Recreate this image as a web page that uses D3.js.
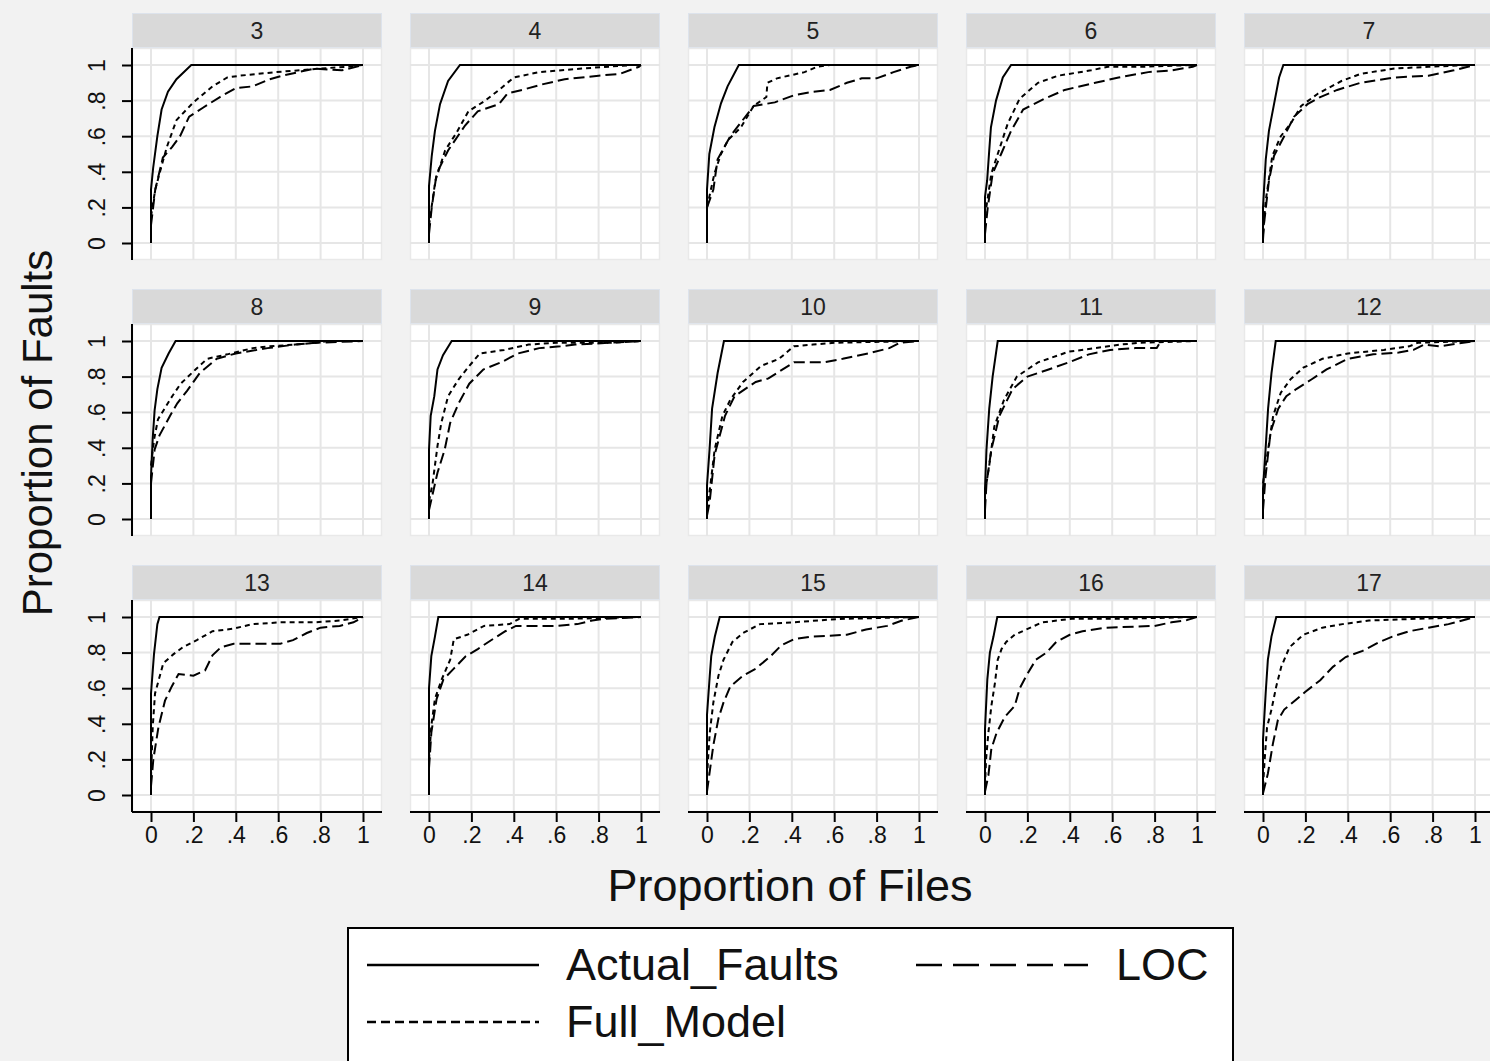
<!DOCTYPE html>
<html>
<head>
<meta charset="utf-8">
<script src="https://cdn.jsdelivr.net/npm/d3@7"></script>
<style>
  html, body { margin: 0; padding: 0; background: #f2f2f2; }
  svg { display: block; font-family: "Liberation Sans", Arial, Helvetica, sans-serif; }
</style>
</head>
<body>
<script>
// panel labels (release numbers), read left to right, top to bottom
const panelLabels = ['3', '4', '5', '6', '7', '8', '9', '10', '11', '12', '13', '14', '15', '16', '17'];

const xTicks = [0, 0.2, 0.4, 0.6, 0.8, 1];
const xTickLabels = ['0', '.2', '.4', '.6', '.8', '1'];
const yTicks = [0, 0.2, 0.4, 0.6, 0.8, 1];
const yTickLabels = ['0', '.2', '.4', '.6', '.8', '1'];

const seriesNames = ['Actual_Faults', 'Full_Model', 'LOC'];

// [proportion of files, proportion of faults], one list per panel
const actualFaults = [
  [[0, 0], [0, 0.3], [0.01, 0.42], [0.03, 0.6], [0.05, 0.75], [0.08, 0.85], [0.12, 0.92], [0.19, 1], [1, 1]],
  [[0, 0], [0, 0.32], [0.013, 0.49], [0.028, 0.63], [0.052, 0.78], [0.09, 0.91], [0.146, 1], [1, 1]],
  [[0, 0], [0, 0.3], [0.011, 0.5], [0.035, 0.65], [0.066, 0.785], [0.097, 0.88], [0.15, 1], [1, 1]],
  [[0, 0], [0, 0.26], [0.01, 0.35], [0.02, 0.52], [0.028, 0.65], [0.052, 0.8], [0.084, 0.93], [0.123, 1], [1, 1]],
  [[0, 0], [0, 0.2], [0.013, 0.47], [0.028, 0.63], [0.052, 0.78], [0.076, 0.93], [0.096, 1], [1, 1]],
  [[0, 0], [0, 0.24], [0.008, 0.45], [0.017, 0.61], [0.03, 0.73], [0.05, 0.85], [0.083, 0.93], [0.116, 1], [1, 1]],
  [[0, 0], [0, 0.39], [0.008, 0.58], [0.025, 0.69], [0.04, 0.84], [0.066, 0.92], [0.107, 1], [1, 1]],
  [[0, 0], [0, 0.19], [0.012, 0.39], [0.024, 0.62], [0.05, 0.82], [0.08, 1], [1, 1]],
  [[0, 0], [0, 0.17], [0.007, 0.39], [0.02, 0.62], [0.036, 0.8], [0.06, 1], [1, 1]],
  [[0, 0], [0, 0.17], [0.012, 0.39], [0.024, 0.62], [0.04, 0.82], [0.06, 1], [1, 1]],
  [[0, 0], [0, 0.57], [0.014, 0.79], [0.03, 0.96], [0.04, 1], [1, 1]],
  [[0, 0], [0, 0.6], [0.011, 0.78], [0.028, 0.89], [0.044, 1], [1, 1]],
  [[0, 0], [0, 0.45], [0.013, 0.67], [0.02, 0.78], [0.037, 0.89], [0.06, 1], [1, 1]],
  [[0, 0], [0, 0.37], [0.011, 0.65], [0.023, 0.8], [0.04, 0.89], [0.058, 1], [1, 1]],
  [[0, 0], [0, 0.31], [0.0125, 0.57], [0.023, 0.76], [0.04, 0.89], [0.0625, 1], [1, 1]]
];

const fullModel = [
  [[0, 0.15], [0.02, 0.3], [0.04, 0.39], [0.075, 0.54], [0.12, 0.69], [0.2, 0.79], [0.29, 0.88], [0.36, 0.93], [0.42, 0.94], [0.59, 0.96], [0.8, 0.98], [0.92, 0.99], [1, 1]],
  [[0, 0.1], [0.03, 0.35], [0.076, 0.52], [0.13, 0.62], [0.186, 0.74], [0.265, 0.8], [0.33, 0.86], [0.4, 0.93], [0.52, 0.96], [0.72, 0.98], [0.96, 1], [1, 1]],
  [[0, 0.2], [0.035, 0.39], [0.066, 0.5], [0.1, 0.58], [0.16, 0.65], [0.22, 0.77], [0.28, 0.82], [0.285, 0.9], [0.33, 0.925], [0.46, 0.96], [0.52, 0.99], [0.58, 1], [1, 1]],
  [[0, 0.15], [0.03, 0.39], [0.06, 0.5], [0.107, 0.67], [0.163, 0.81], [0.25, 0.9], [0.345, 0.94], [0.5, 0.97], [0.58, 0.99], [0.74, 0.99], [0.98, 1], [1, 1]],
  [[0, 0.05], [0.013, 0.24], [0.044, 0.49], [0.084, 0.6], [0.13, 0.67], [0.18, 0.77], [0.26, 0.84], [0.37, 0.91], [0.46, 0.95], [0.62, 0.98], [0.78, 0.99], [0.98, 1], [1, 1]],
  [[0, 0.3], [0.015, 0.45], [0.033, 0.56], [0.1, 0.69], [0.14, 0.76], [0.21, 0.84], [0.265, 0.9], [0.36, 0.925], [0.48, 0.96], [0.56, 0.97], [0.68, 0.98], [0.78, 0.99], [0.84, 1], [1, 1]],
  [[0, 0.1], [0.017, 0.2], [0.04, 0.41], [0.058, 0.54], [0.09, 0.69], [0.14, 0.785], [0.19, 0.86], [0.24, 0.93], [0.355, 0.95], [0.47, 0.98], [0.6, 0.99], [0.85, 0.99], [1, 1]],
  [[0, 0.05], [0.017, 0.2], [0.036, 0.39], [0.073, 0.58], [0.11, 0.67], [0.17, 0.77], [0.255, 0.86], [0.34, 0.9], [0.41, 0.97], [0.5, 0.98], [0.6, 0.99], [1, 1]],
  [[0, 0.15], [0.02, 0.3], [0.044, 0.52], [0.09, 0.67], [0.15, 0.8], [0.25, 0.88], [0.395, 0.94], [0.52, 0.96], [0.64, 0.98], [0.73, 0.99], [1, 1]],
  [[0, 0.2], [0.024, 0.39], [0.048, 0.58], [0.084, 0.71], [0.13, 0.785], [0.19, 0.85], [0.28, 0.9], [0.4, 0.93], [0.57, 0.95], [0.69, 0.97], [0.73, 0.99], [1, 1]],
  [[0, 0.1], [0.008, 0.38], [0.019, 0.57], [0.035, 0.64], [0.058, 0.74], [0.105, 0.79], [0.15, 0.83], [0.216, 0.87], [0.29, 0.92], [0.39, 0.935], [0.48, 0.96], [0.61, 0.97], [0.77, 0.97], [0.89, 0.98], [1, 1]],
  [[0, 0.2], [0.011, 0.39], [0.028, 0.54], [0.06, 0.65], [0.1, 0.76], [0.117, 0.875], [0.18, 0.9], [0.26, 0.95], [0.38, 0.96], [0.426, 0.99], [0.67, 0.99], [1, 1]],
  [[0, 0.1], [0.005, 0.2], [0.013, 0.35], [0.03, 0.52], [0.054, 0.67], [0.078, 0.76], [0.12, 0.86], [0.17, 0.91], [0.25, 0.96], [0.41, 0.97], [0.57, 0.985], [0.66, 0.99], [1, 1]],
  [[0, 0.05], [0.005, 0.2], [0.016, 0.35], [0.03, 0.5], [0.047, 0.63], [0.06, 0.76], [0.078, 0.82], [0.1, 0.86], [0.14, 0.9], [0.195, 0.93], [0.27, 0.97], [0.41, 0.99], [0.65, 0.99], [1, 1]],
  [[0, 0.05], [0.008, 0.2], [0.019, 0.38], [0.04, 0.48], [0.0625, 0.61], [0.086, 0.72], [0.125, 0.83], [0.19, 0.9], [0.28, 0.94], [0.375, 0.96], [0.5, 0.98], [0.73, 0.99], [1, 1]]
];

const locModel = [
  [[0, 0.1], [0.02, 0.3], [0.04, 0.4], [0.056, 0.48], [0.1, 0.54], [0.137, 0.6], [0.18, 0.71], [0.245, 0.76], [0.325, 0.82], [0.4, 0.87], [0.48, 0.88], [0.56, 0.92], [0.62, 0.94], [0.77, 0.98], [0.9, 0.97], [1, 1]],
  [[0, 0.05], [0.013, 0.2], [0.036, 0.39], [0.09, 0.52], [0.17, 0.66], [0.23, 0.74], [0.33, 0.78], [0.37, 0.84], [0.44, 0.86], [0.53, 0.89], [0.64, 0.92], [0.8, 0.94], [0.9, 0.95], [0.99, 0.99], [1, 1]],
  [[0, 0.2], [0.03, 0.3], [0.05, 0.47], [0.11, 0.6], [0.22, 0.77], [0.32, 0.79], [0.41, 0.83], [0.5, 0.85], [0.58, 0.86], [0.66, 0.9], [0.73, 0.925], [0.8, 0.925], [0.88, 0.96], [0.96, 0.99], [1, 1]],
  [[0, 0.05], [0.013, 0.2], [0.036, 0.39], [0.076, 0.5], [0.123, 0.63], [0.18, 0.75], [0.28, 0.81], [0.376, 0.86], [0.52, 0.9], [0.63, 0.93], [0.77, 0.96], [0.88, 0.97], [0.98, 0.99], [1, 1]],
  [[0, 0.02], [0.005, 0.11], [0.028, 0.35], [0.052, 0.49], [0.1, 0.6], [0.147, 0.71], [0.21, 0.78], [0.27, 0.82], [0.35, 0.86], [0.46, 0.9], [0.62, 0.93], [0.78, 0.94], [0.9, 0.97], [1, 1]],
  [[0, 0.2], [0.017, 0.39], [0.04, 0.47], [0.09, 0.58], [0.124, 0.65], [0.17, 0.72], [0.23, 0.82], [0.31, 0.9], [0.4, 0.93], [0.55, 0.96], [0.68, 0.98], [0.78, 0.99], [1, 1]],
  [[0, 0.05], [0.04, 0.26], [0.074, 0.39], [0.1, 0.54], [0.14, 0.65], [0.19, 0.76], [0.256, 0.84], [0.34, 0.88], [0.42, 0.93], [0.52, 0.96], [0.62, 0.97], [0.69, 0.98], [0.85, 0.99], [1, 1]],
  [[0, 0.02], [0.012, 0.09], [0.036, 0.36], [0.085, 0.58], [0.13, 0.69], [0.23, 0.77], [0.29, 0.79], [0.41, 0.88], [0.55, 0.88], [0.64, 0.9], [0.76, 0.93], [0.86, 0.96], [0.91, 0.99], [1, 1]],
  [[0, 0.05], [0.007, 0.2], [0.03, 0.39], [0.068, 0.58], [0.13, 0.73], [0.2, 0.8], [0.3, 0.84], [0.395, 0.88], [0.49, 0.925], [0.59, 0.95], [0.71, 0.96], [0.81, 0.96], [0.83, 1], [1, 1]],
  [[0, 0.05], [0.012, 0.24], [0.036, 0.49], [0.072, 0.62], [0.11, 0.69], [0.157, 0.73], [0.23, 0.785], [0.3, 0.84], [0.4, 0.9], [0.52, 0.925], [0.64, 0.935], [0.71, 0.95], [0.76, 0.98], [0.83, 0.97], [1, 1]],
  [[0, 0.05], [0.011, 0.2], [0.035, 0.38], [0.066, 0.53], [0.098, 0.61], [0.13, 0.68], [0.2, 0.67], [0.255, 0.7], [0.29, 0.785], [0.33, 0.83], [0.39, 0.85], [0.61, 0.85], [0.67, 0.87], [0.735, 0.91], [0.8, 0.94], [0.89, 0.95], [0.955, 0.97], [1, 1]],
  [[0, 0.15], [0.011, 0.35], [0.036, 0.54], [0.068, 0.65], [0.117, 0.71], [0.174, 0.78], [0.23, 0.82], [0.3, 0.875], [0.36, 0.92], [0.41, 0.95], [0.6, 0.95], [0.7, 0.96], [0.77, 0.98], [0.83, 0.99], [1, 1]],
  [[0, 0.02], [0.03, 0.28], [0.054, 0.43], [0.078, 0.52], [0.11, 0.61], [0.17, 0.67], [0.23, 0.71], [0.3, 0.78], [0.35, 0.84], [0.41, 0.875], [0.49, 0.89], [0.66, 0.9], [0.75, 0.93], [0.85, 0.95], [0.92, 0.98], [1, 1]],
  [[0, 0.02], [0.016, 0.11], [0.03, 0.26], [0.055, 0.35], [0.094, 0.44], [0.14, 0.5], [0.164, 0.6], [0.195, 0.67], [0.24, 0.76], [0.29, 0.8], [0.336, 0.86], [0.4, 0.9], [0.46, 0.92], [0.57, 0.94], [0.8, 0.95], [0.88, 0.97], [0.945, 0.98], [1, 1]],
  [[0, 0.01], [0.023, 0.12], [0.047, 0.29], [0.07, 0.42], [0.1, 0.48], [0.15, 0.53], [0.2, 0.58], [0.27, 0.645], [0.33, 0.72], [0.39, 0.775], [0.47, 0.81], [0.55, 0.86], [0.61, 0.89], [0.69, 0.92], [0.78, 0.94], [0.875, 0.96], [0.97, 0.99], [1, 1]]
];

const seriesData = [actualFaults, fullModel, locModel];
const panelDash = [null, '5,4', '11,5'];
const legendDash = [null, '9,5', '26,11'];

const W = 1490, H = 1061;
const nCols = 5;
const colLeft0 = 132, colStep = 278, panelW = 250;
const rowTop0 = 13, rowStep = 276, stripH = 35, plotH = 212;
const font = '"Liberation Sans", Arial, Helvetica, sans-serif';

const svg = d3.select('body')
  .append('svg')
  .attr('width', W)
  .attr('height', H);

svg.append('rect')
  .attr('width', W)
  .attr('height', H)
  .attr('fill', '#f2f2f2');

const line = (x, y) => d3.line()
  .x(d => x(d[0]))
  .y(d => y(d[1]));

panelLabels.forEach((label, i) => {
  const c = i % nCols;
  const r = Math.floor(i / nCols);
  const left = colLeft0 + c * colStep;
  const top = rowTop0 + r * rowStep;
  const plotTop = top + stripH;

  const x = d3.scaleLinear().domain([0, 1]).range([left + 19, left + 231]);
  const y = d3.scaleLinear().domain([0, 1]).range([plotTop + 195, plotTop + 17]);

  const g = svg.append('g');

  // strip
  g.append('rect')
    .attr('x', left + 0.5)
    .attr('y', top + 0.5)
    .attr('width', panelW - 1)
    .attr('height', stripH - 1)
    .attr('fill', '#d9d9d9')
    .attr('stroke', '#dde3ec')
    .attr('stroke-width', 1);

  g.append('text')
    .attr('x', left + panelW / 2)
    .attr('y', top + stripH / 2 + 8)
    .attr('text-anchor', 'middle')
    .style('font-size', '23px')
    .attr('fill', '#222')
    .text(label);

  // plot region
  g.append('rect')
    .attr('x', left + 0.5)
    .attr('y', plotTop + 0.5)
    .attr('width', panelW - 1)
    .attr('height', plotH - 1)
    .attr('fill', '#fff')
    .attr('stroke', '#e9e9e9')
    .attr('stroke-width', 1.5);

  // grid
  g.selectAll('.vg')
    .data(xTicks)
    .join('line')
    .attr('x1', d => x(d)).attr('x2', d => x(d))
    .attr('y1', plotTop).attr('y2', plotTop + plotH)
    .attr('stroke', '#e6e6e6')
    .attr('stroke-width', 2);

  g.selectAll('.hg')
    .data(yTicks)
    .join('line')
    .attr('x1', left).attr('x2', left + panelW)
    .attr('y1', d => y(d)).attr('y2', d => y(d))
    .attr('stroke', '#e6e6e6')
    .attr('stroke-width', 2);

  // curves
  seriesData.forEach((series, s) => {
    g.append('path')
      .datum(series[i])
      .attr('d', line(x, y))
      .attr('fill', 'none')
      .attr('stroke', '#000')
      .attr('stroke-width', 2)
      .attr('stroke-dasharray', panelDash[s]);
  });

  // y axis on first column
  if (c === 0) {
    const ya = g.append('g')
      .attr('transform', `translate(${left},0)`)
      .call(d3.axisLeft(y).tickValues(yTicks).tickFormat((d, k) => yTickLabels[k]).tickSize(10).tickSizeOuter(0));
    ya.select('.domain').remove();
    ya.selectAll('.tick line').attr('stroke-width', 2);
    ya.selectAll('.tick text')
      .attr('transform', 'rotate(-90)')
      .attr('x', 0)
      .attr('y', -27)
      .attr('dy', 0)
      .attr('text-anchor', 'middle')
      .style('font-size', '23px')
      .style('font-family', font)
      .attr('fill', '#111');
    g.append('line')
      .attr('x1', left).attr('x2', left)
      .attr('y1', plotTop).attr('y2', plotTop + plotH)
      .attr('stroke', '#000').attr('stroke-width', 2);
  }

  // x axis on bottom row
  if (r === 2) {
    const xa = g.append('g')
      .attr('transform', `translate(0,${plotTop + plotH})`)
      .call(d3.axisBottom(x).tickValues(xTicks).tickFormat((d, k) => xTickLabels[k]).tickSize(10).tickSizeOuter(0));
    xa.select('.domain').remove();
    xa.selectAll('.tick line').attr('stroke-width', 2);
    xa.selectAll('.tick text')
      .attr('y', 15)
      .style('font-size', '23px')
      .style('font-family', font)
      .attr('fill', '#111');
    g.append('line')
      .attr('x1', left).attr('x2', left + panelW)
      .attr('y1', plotTop + plotH).attr('y2', plotTop + plotH)
      .attr('stroke', '#000').attr('stroke-width', 2);
  }
});

// axis titles
svg.append('text')
  .attr('transform', 'translate(52,433) rotate(-90)')
  .attr('text-anchor', 'middle')
  .style('font-size', '42px')
  .attr('fill', '#111')
  .text('Proportion of Faults');

svg.append('text')
  .attr('x', 790)
  .attr('y', 901)
  .attr('text-anchor', 'middle')
  .style('font-size', '45px')
  .attr('fill', '#111')
  .text('Proportion of Files');

// legend
const legend = svg.append('g');
legend.append('rect')
  .attr('x', 348)
  .attr('y', 928)
  .attr('width', 885)
  .attr('height', 160)
  .attr('fill', '#fff')
  .attr('stroke', '#000')
  .attr('stroke-width', 2);

const legendItems = [
  { s: 0, x: 367, y: 965 },
  { s: 2, x: 916, y: 965 },
  { s: 1, x: 367, y: 1022 }
];

legendItems.forEach(it => {
  legend.append('line')
    .attr('x1', it.x).attr('x2', it.x + 172)
    .attr('y1', it.y).attr('y2', it.y)
    .attr('stroke', '#000')
    .attr('stroke-width', 2.5)
    .attr('stroke-dasharray', legendDash[it.s]);
  legend.append('text')
    .attr('x', it.s === 2 ? it.x + 200 : it.x + 199)
    .attr('y', it.y + 15)
    .style('font-size', '45px')
    .attr('fill', '#111')
    .text(seriesNames[it.s]);
});
</script>
</body>
</html>
